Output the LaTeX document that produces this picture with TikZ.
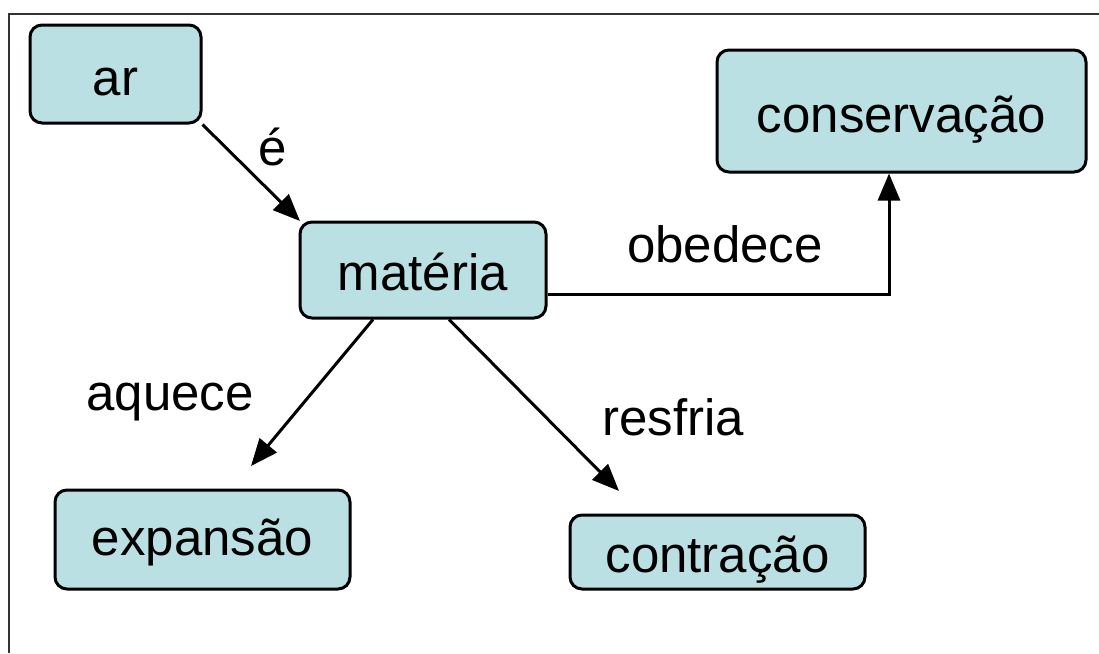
\documentclass[tikz,border=0pt]{standalone}
\usepackage{fontspec}
\setmainfont{Liberation Sans}
\usetikzlibrary{arrows.meta}
\definecolor{boxfill}{RGB}{187,224,227}
\begin{document}
\begin{tikzpicture}[x=1pt,y=-1pt,
  concept/.style={draw=black,line width=3pt,fill=boxfill,rounded corners=12pt,inner sep=0pt,
    text depth=0pt,font=\fontsize{51}{60}\selectfont},
  lbl/.style={font=\fontsize{51}{60}\selectfont,inner sep=0pt,anchor=base},
  arr/.style={line width=3pt,-{Triangle[length=27pt,width=22pt]}}]
\useasboundingbox (0,0) rectangle (1099,653);
\fill[white] (0,0) rectangle (1099,653);
\draw[line width=2pt,black!80] (8.5,653) -- (8.5,13.5) -- (1099,13.5);
\node[concept,minimum width=171pt,minimum height=98pt,text height=42pt] (ar) at (115.5,74) {ar};
\node[concept,minimum width=369pt,minimum height=122pt,text height=42pt] (cons) at (901.5,111) {conservação};
\node[concept,minimum width=246pt,minimum height=96pt,text height=40pt] (mat) at (423,270) {matéria};
\node[concept,minimum width=295pt,minimum height=99pt,text height=31pt] (exp) at (202.5,539.5) {expansão};
\node[concept,minimum width=295pt,minimum height=74pt,text height=40pt] (con) at (717.5,552) {contração};
\coordinate (e1) at (300,221);
\coordinate (ob) at (889,294);
\coordinate (e3) at (251,466);
\coordinate (e4) at (619,491);
\draw[arr] (ar.south east) -- (e1);
\draw[arr] (mat.east |- ob) -- (ob) -- (ob |- cons.south);
\draw[arr] ([xshift=-50pt]mat.south) -- (e3);
\draw[arr] ([xshift=26pt]mat.south) -- (e4);
\node[lbl] (le) at (273,165) {é};
\node[lbl] (lob) at (725,262) {obedece};
\node[lbl] (laq) at (170,410) {aquece};
\node[lbl] (lre) at (673,435) {resfria};
\end{tikzpicture}
\end{document}
